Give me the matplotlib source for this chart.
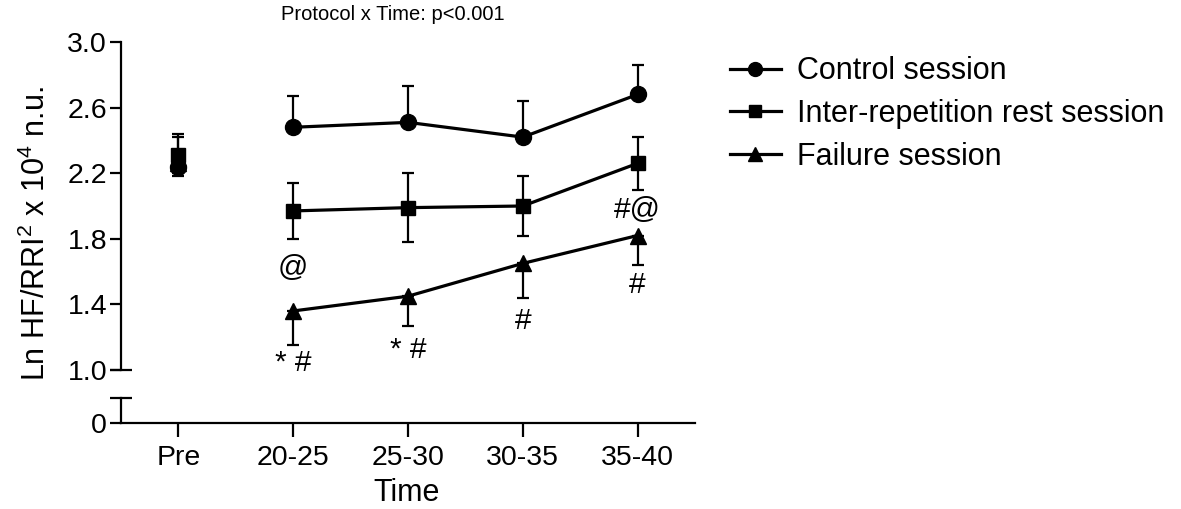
import numpy as np
import matplotlib
matplotlib.use('Agg')
import matplotlib.pyplot as plt
from matplotlib.ticker import FormatStrFormatter

plt.rcParams['font.family'] = ['Liberation Sans', 'DejaVu Sans']
plt.rcParams['mathtext.fontset'] = 'custom'
plt.rcParams['mathtext.rm'] = 'Liberation Sans'

# 数据
times = ['Pre', '20-25', '25-30', '30-35', '35-40']
control = [2.24, 2.48, 2.51, 2.42, 2.68]
control_err = [0.18, 0.19, 0.22, 0.22, 0.18]
inter_rest = [2.31, 1.97, 1.99, 2.00, 2.26]
inter_rest_err = [0.13, 0.17, 0.21, 0.18, 0.16]
failure = [2.26, 1.36, 1.45, 1.65, 1.82]
failure_err = [0.06, 0.21, 0.18, 0.21, 0.18]

# 显著性标记 (x索引, y, 文字)
marks = [(1, 1.62, '@'), (1, 1.04, '* #'), (2, 1.12, '* #'),
         (3, 1.30, '#'), (4, 1.52, '#'), (4, 1.975, '#@')]

W, H = 1181, 509
fig = plt.figure(figsize=(W / 100, H / 100), dpi=100)

left, right = 121, 695
ax = fig.add_axes([left / W, 139 / H, (right - left) / W, 328 / H])
axb = fig.add_axes([left / W, 86 / H, (right - left) / W, 25 / H])

x = np.arange(len(times))
lw = 2.3
elw = 1.6
cap = 4.5
tick_fs = 20.5
lab_fs = 22

for a in (ax, axb):
    a.set_xlim(-0.5, 4.5)
    for s in ('top', 'right'):
        a.spines[s].set_visible(False)
    a.spines['left'].set_linewidth(1.6)
    a.spines['bottom'].set_linewidth(1.6)
    a.tick_params(width=1.6, length=8, labelsize=tick_fs, pad=2)

# 上半部分
ax.set_ylim(1.0, 3.0)
ax.spines['bottom'].set_visible(False)
ax.set_xticks([])
ax.set_yticks(np.arange(1.0, 3.01, 0.4))
ax.yaxis.set_major_formatter(FormatStrFormatter('%.1f'))

# 对照组：误差线向上
ax.errorbar(x, control, yerr=[np.zeros(5), control_err], fmt='none',
            ecolor='black', elinewidth=elw, capsize=cap, capthick=elw)
ax.plot(x[1:], control[1:], '-', color='black', lw=lw)
ax.plot(x, control, 'o', color='black', ms=11.5)

# 间歇组：双向误差线
ax.errorbar(x, inter_rest, yerr=inter_rest_err, fmt='none',
            ecolor='black', elinewidth=elw, capsize=cap, capthick=elw)
ax.plot(x[1:], inter_rest[1:], '-', color='black', lw=lw)
ax.plot(x, inter_rest, 's', color='black', ms=10.5)

# 力竭组：误差线向下
ax.errorbar(x, failure, yerr=[failure_err, np.zeros(5)], fmt='none',
            ecolor='black', elinewidth=elw, capsize=cap, capthick=elw)
ax.plot(x[1:], failure[1:], '-', color='black', lw=lw)
ax.plot(x, failure, '^', color='black', ms=11.5)

# 断轴端点
ax.plot([-0.5], [1.0], marker='_', ms=16, mew=1.6, color='black', clip_on=False)

for xi, yi, t in marks:
    ax.text(xi, yi, t, ha='center', va='center', fontsize=21.5)

# 下半部分
axb.set_ylim(0, 0.15)
axb.set_yticks([0])
axb.set_yticklabels(['0'])
axb.set_xticks(x)
axb.set_xticklabels(times)
axb.tick_params(axis='x', length=10, pad=6)
axb.plot([-0.5], [0.15], marker='_', ms=16, mew=1.6, color='black', clip_on=False)

fig.text(407 / W, 1 - 493 / H, 'Time', ha='center', va='center', fontsize=lab_fs)
fig.text(36 / W, 1 - 234 / H, r'Ln HF/RRI$^2$ x 10$^4$ n.u.', rotation=90,
         ha='center', va='center', fontsize=lab_fs)
fig.text(393 / W, 1 - 15 / H, 'Protocol x Time: p<0.001', ha='center', va='center',
         fontsize=14.5)

# 图例
handles = [
    plt.Line2D([], [], color='black', lw=lw, marker='o', ms=10),
    plt.Line2D([], [], color='black', lw=lw, marker='s', ms=9),
    plt.Line2D([], [], color='black', lw=lw, marker='^', ms=10),
]
labels = ['Control session', 'Inter-repetition rest session', 'Failure session']
fig.legend(handles, labels, loc='upper left', bbox_to_anchor=(718 / W, 1 - 44 / H),
           frameon=False, fontsize=22, handlelength=1.65, labelspacing=0.42,
           handletextpad=0.55, borderaxespad=0)

fig.savefig('out.png', dpi=100)
